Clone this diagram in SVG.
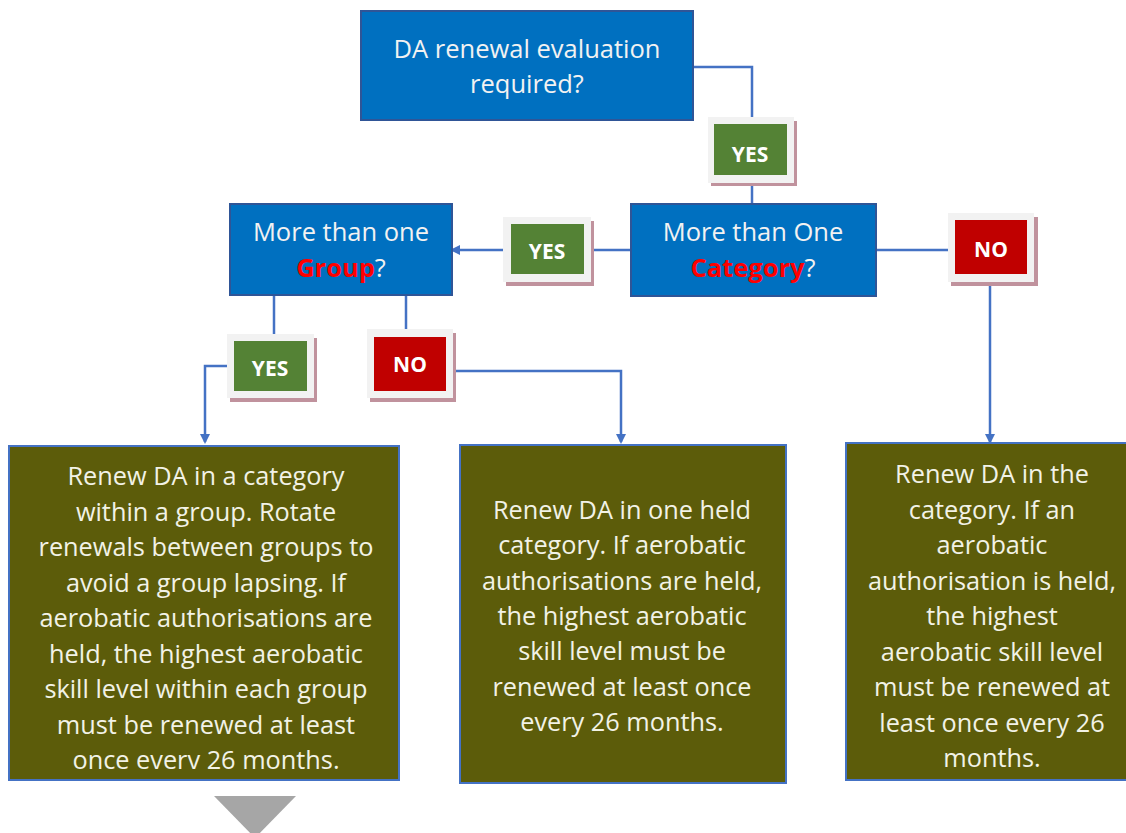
<svg xmlns="http://www.w3.org/2000/svg" width="1126" height="833" viewBox="0 0 1126 833">
<defs>
<style>
.q{fill:#0070c0;stroke:#2f5597;stroke-width:2}
.r{fill:#5c5c0a;stroke:#4472c4;stroke-width:2}
.qt{font-family:"Open Sans",Lato,sans-serif;font-size:25.5px;fill:#f2f2f2;text-anchor:middle}
.rt{font-family:"Open Sans",Lato,sans-serif;font-size:25.3px;fill:#f2f2e6;text-anchor:middle}
.red{fill:#ff0000;font-weight:bold}
.frame{fill:#f2f2f2}
.shadow{fill:#c0929d}
.yes{fill:#548235}
.no{fill:#c00000}
.bt{font-family:"Open Sans",Lato,sans-serif;font-size:21px;font-weight:bold;fill:#ffffff;text-anchor:middle}
.c{fill:none;stroke:#4472c4;stroke-width:2.5}
</style>
<marker id="ah" markerWidth="10" markerHeight="10" refX="8" refY="5" orient="auto" markerUnits="userSpaceOnUse">
<path d="M0,0 L10,5 L0,10 Z" fill="#4472c4"/>
</marker>
</defs>
<rect width="1126" height="833" fill="#ffffff"/>

<g id="connectors">
<path class="c" d="M693,67 H752 V118"/>
<path class="c" d="M752,183 V227" marker-end="url(#ah)"/>
<path class="c" d="M631,250 H592"/>
<path class="c" d="M503,250 H452" marker-end="url(#ah)"/>
<path class="c" d="M876,250 H948"/>
<path class="c" d="M990,282 V442" marker-end="url(#ah)"/>
<path class="c" d="M274,295 V335"/>
<path class="c" d="M227,366 H205 V442" marker-end="url(#ah)"/>
<path class="c" d="M406,295 V330"/>
<path class="c" d="M453,371 H621 V442" marker-end="url(#ah)"/>
</g>

<g id="n-top">
<rect class="q" x="361" y="11" width="332" height="109"/>
<text class="qt" x="527" y="58">DA renewal evaluation</text>
<text class="qt" x="527" y="93">required?</text>
</g>

<g id="n-category">
<rect class="q" x="631" y="204" width="245" height="92"/>
<text class="qt" x="753" y="241">More than One</text>
<text class="qt" x="753" y="277"><tspan class="red">Category</tspan>?</text>
</g>

<g id="n-group">
<rect class="q" x="230" y="204" width="222" height="91"/>
<text class="qt" x="341" y="241">More than one</text>
<text class="qt" x="341" y="277"><tspan class="red">Group</tspan>?</text>
</g>

<g id="b-yes1">
<rect class="shadow" x="711" y="121" width="86" height="65"/>
<rect class="frame" x="708" y="117" width="86" height="66"/>
<rect class="yes" x="714" y="124" width="73" height="51"/>
<text class="bt" x="750" y="162">YES</text>
</g>

<g id="b-yes2">
<rect class="shadow" x="506" y="221" width="88" height="65"/>
<rect class="frame" x="503" y="217" width="88" height="65"/>
<rect class="yes" x="511" y="224" width="73" height="50"/>
<text class="bt" x="547" y="259">YES</text>
</g>

<g id="b-no1">
<rect class="shadow" x="951" y="217" width="87" height="69"/>
<rect class="frame" x="948" y="213" width="86" height="69"/>
<rect class="no" x="955" y="220" width="72" height="54"/>
<text class="bt" x="991" y="257">NO</text>
</g>

<g id="b-yes3">
<rect class="shadow" x="230" y="338" width="87" height="64"/>
<rect class="frame" x="227" y="334" width="87" height="64"/>
<rect class="yes" x="234" y="341" width="73" height="50"/>
<text class="bt" x="270" y="376">YES</text>
</g>

<g id="b-no2">
<rect class="shadow" x="370" y="333" width="86" height="69"/>
<rect class="frame" x="367" y="329" width="86" height="69"/>
<rect class="no" x="374" y="337" width="72" height="54"/>
<text class="bt" x="410" y="372">NO</text>
</g>

<g id="n-left">
<rect class="r" x="9" y="446" width="390" height="334"/>
<text class="rt" x="206" y="485">Renew DA in a category</text>
<text class="rt" x="206" y="521">within a group. Rotate</text>
<text class="rt" x="206" y="556">renewals between groups to</text>
<text class="rt" x="206" y="592">avoid a group lapsing. If</text>
<text class="rt" x="206" y="627">aerobatic authorisations are</text>
<text class="rt" x="206" y="663">held, the highest aerobatic</text>
<text class="rt" x="206" y="698">skill level within each group</text>
<text class="rt" x="206" y="734">must be renewed at least</text>
<text class="rt" x="206" y="769">once everv 26 months.</text>
</g>

<g id="n-mid">
<rect class="r" x="460" y="445" width="326" height="338"/>
<text class="rt" x="622" y="519">Renew DA in one held</text>
<text class="rt" x="622" y="554">category. If aerobatic</text>
<text class="rt" x="622" y="590">authorisations are held,</text>
<text class="rt" x="622" y="625">the highest aerobatic</text>
<text class="rt" x="622" y="660">skill level must be</text>
<text class="rt" x="622" y="696">renewed at least once</text>
<text class="rt" x="622" y="731">every 26 months.</text>
</g>

<g id="n-right">
<rect class="r" x="846" y="443" width="290" height="337"/>
<text class="rt" x="992" y="483">Renew DA in the</text>
<text class="rt" x="992" y="519">category.  If an</text>
<text class="rt" x="992" y="554">aerobatic</text>
<text class="rt" x="992" y="590">authorisation is held,</text>
<text class="rt" x="992" y="625">the highest</text>
<text class="rt" x="992" y="661">aerobatic skill level</text>
<text class="rt" x="992" y="696">must be renewed at</text>
<text class="rt" x="992" y="732">least once every 26</text>
<text class="rt" x="992" y="767">months.</text>
</g>

<g id="down-triangle">
<polygon points="214,796 296,796 255,838" fill="#a6a6a6"/>
</g>
</svg>
